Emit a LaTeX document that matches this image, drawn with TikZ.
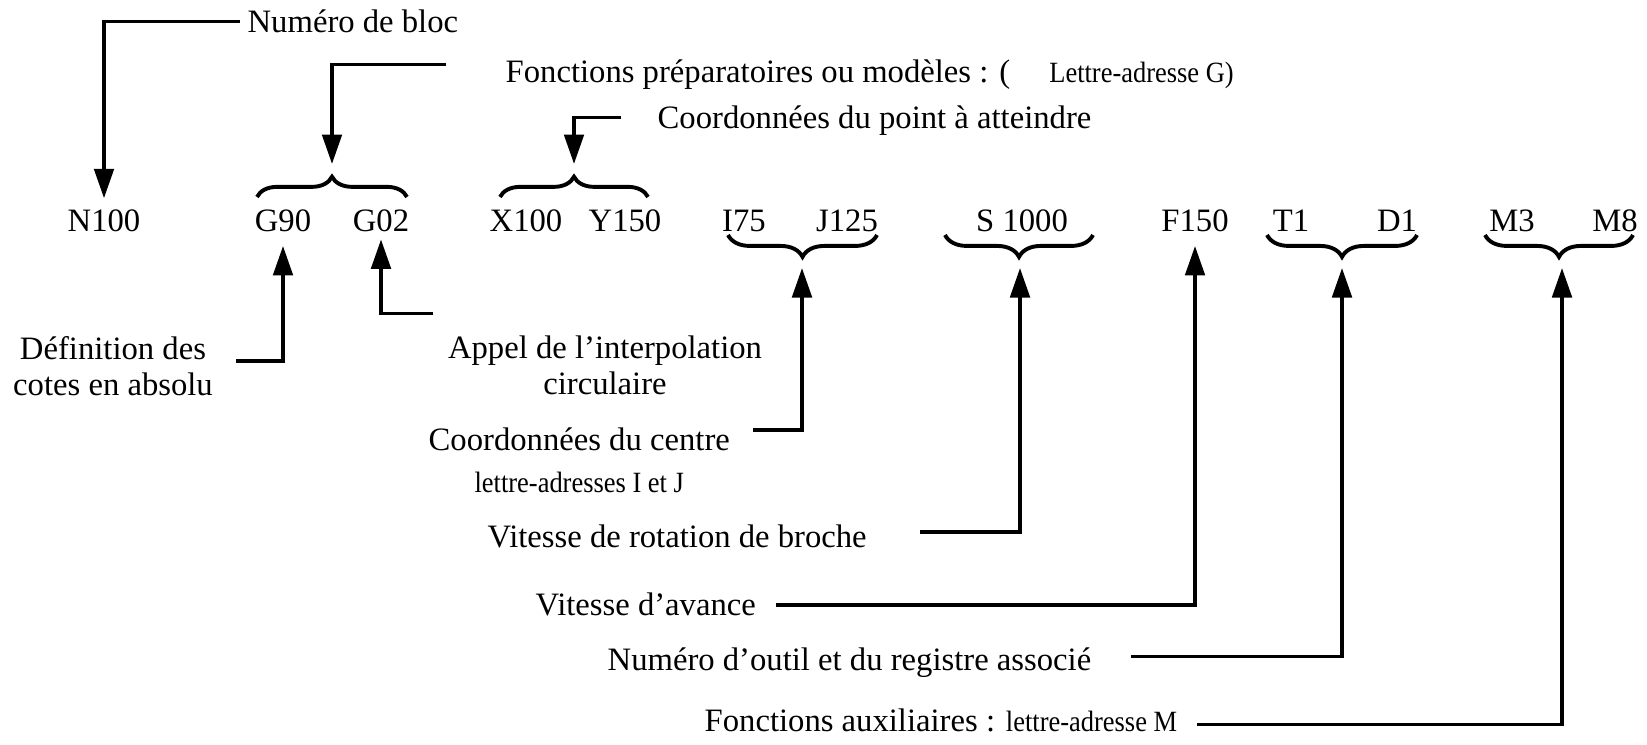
\documentclass[tikz,border=0pt]{standalone}
\usepackage{fontspec}
\setmainfont{Liberation Serif}
\newfontfamily\petitfont{Liberation Serif}[FakeStretch=0.9]
\newcommand{\petit}{\petitfont\fontsize{9}{10}\selectfont}
\usetikzlibrary{arrows.meta,decorations.pathreplacing,positioning}

\begin{document}
\begin{tikzpicture}[
    x=0.01075cm, y=-0.01075cm,   % une unité = un pixel, axe y vers le bas
    code/.style={anchor=base, inner sep=0pt},
    texte/.style={anchor=base west, inner sep=0pt},
    deuxlignes/.style={align=center, inner sep=0pt, font=\fontsize{10}{11}\selectfont},
    fleche/.style={draw, line width=1pt, -{Triangle[length=9pt,width=6pt]}},
    accolade/.style={draw, line width=1.2pt, decorate, decoration={brace, amplitude=6.2pt}},
    accbas/.style={draw, line width=1.2pt, decorate, decoration={brace, mirror, amplitude=6.7pt}}
]
\useasboundingbox (0,0) rectangle (1647,745);

% Les mots du bloc
\node[code] (n100)  at (104,232)  {N100};
\node[code] (g90)   at (283,232)  {G90};
\node[code] (g02)   at (381,232)  {G02};
\node[code] (x100)  at (526,232)  {X100};
\node[code] (y150)  at (625,232)  {Y150};
\node[code] (i75)   at (744,232)  {I75};
\node[code] (j125)  at (847,232)  {J125};
\node[code] (s1000) at (1022,232) {S 1000};
\node[code] (f150)  at (1195,232) {F150};
\node[code] (t1)    at (1291,232) {T1};
\node[code] (d1)    at (1397,232) {D1};
\node[code] (m3)    at (1512,232) {M3};
\node[code] (m8)    at (1615,232) {M8};

% Accolades au-dessus
\draw[accolade] (257,197) -- (407,197);
\coordinate (gtip) at (332,177);
\draw[accolade] (500,197) -- (648,197);
\coordinate (xytip) at (574,177);

% Accolades en dessous
\draw[accbas] (728,235) -- (877,235);
\coordinate (ijtip) at (802,257);
\draw[accbas] (945,235) -- (1093,235);
\coordinate (stip) at (1020,257);
\draw[accbas] (1267,235) -- (1417,235);
\coordinate (tdtip) at (1342,257);
\draw[accbas] (1485,235) -- (1633,235);
\coordinate (mtip) at (1562,257);

% Légendes
\node[texte] (bloc)  at (247,33)  {Numéro de bloc};
\node[texte] (prep)  at (505,83)  {Fonctions préparatoires ou modèles : (\hspace{1.2em}{\petit Lettre-adresse G)}};
\node[texte] (point) at (657,129) {Coordonnées du point à atteindre};
\node[deuxlignes] (defabs) at (113,366) {Définition des\\cotes en absolu};
\node[deuxlignes] (appel)  at (605,365) {Appel de l’interpolation\\circulaire};
\node[texte] (centre) at (428,451) {Coordonnées du centre};
\node[below=6pt of centre, inner sep=0pt, font=\petit] (lettresij) {lettre-adresses I et J};
\node[texte] (rotation) at (487,548) {Vitesse de rotation de broche};
\node[texte] (avance)   at (535,616) {Vitesse d’avance};
\node[texte] (outil)    at (607,671) {Numéro d’outil et du registre associé};
\node[texte] (aux)      at (704,731) {Fonctions auxiliaires : {\petit lettre-adresse M}};

% Flèches
\draw[fleche, shorten <=2pt, shorten >=3.5pt] (bloc.west) -| (n100.north);
\draw[fleche, shorten <=18pt, shorten >=4pt] ([yshift=3.3pt]prep.west) -| (gtip);
\draw[fleche, shorten <=11pt, shorten >=4pt] ([yshift=1pt]point.west) -| (xytip);
\draw[fleche, shorten <=7pt, shorten >=4pt] ([yshift=1.5pt]defabs.east) -| (g90.south);
\draw[fleche, shorten <=4.5pt, shorten >=2pt] ([yshift=6.5pt]appel.north west) -| (g02.south);
\draw[fleche, shorten <=7pt, shorten >=3.4pt] ([yshift=3pt]centre.east) -| (ijtip);
\draw[fleche, shorten <=16pt, shorten >=3.4pt] ([yshift=1.5pt]rotation.east) -| (stip);
\draw[fleche, shorten <=6pt, shorten >=4pt] (avance.east) -| (f150.south);
\draw[fleche, shorten <=12pt, shorten >=3.4pt] ([yshift=2pt]outil.east) -| (tdtip);
\draw[fleche, shorten <=6pt, shorten >=3.4pt] ([yshift=-1.5pt]aux.east) -| (mtip);
\end{tikzpicture}
\end{document}
